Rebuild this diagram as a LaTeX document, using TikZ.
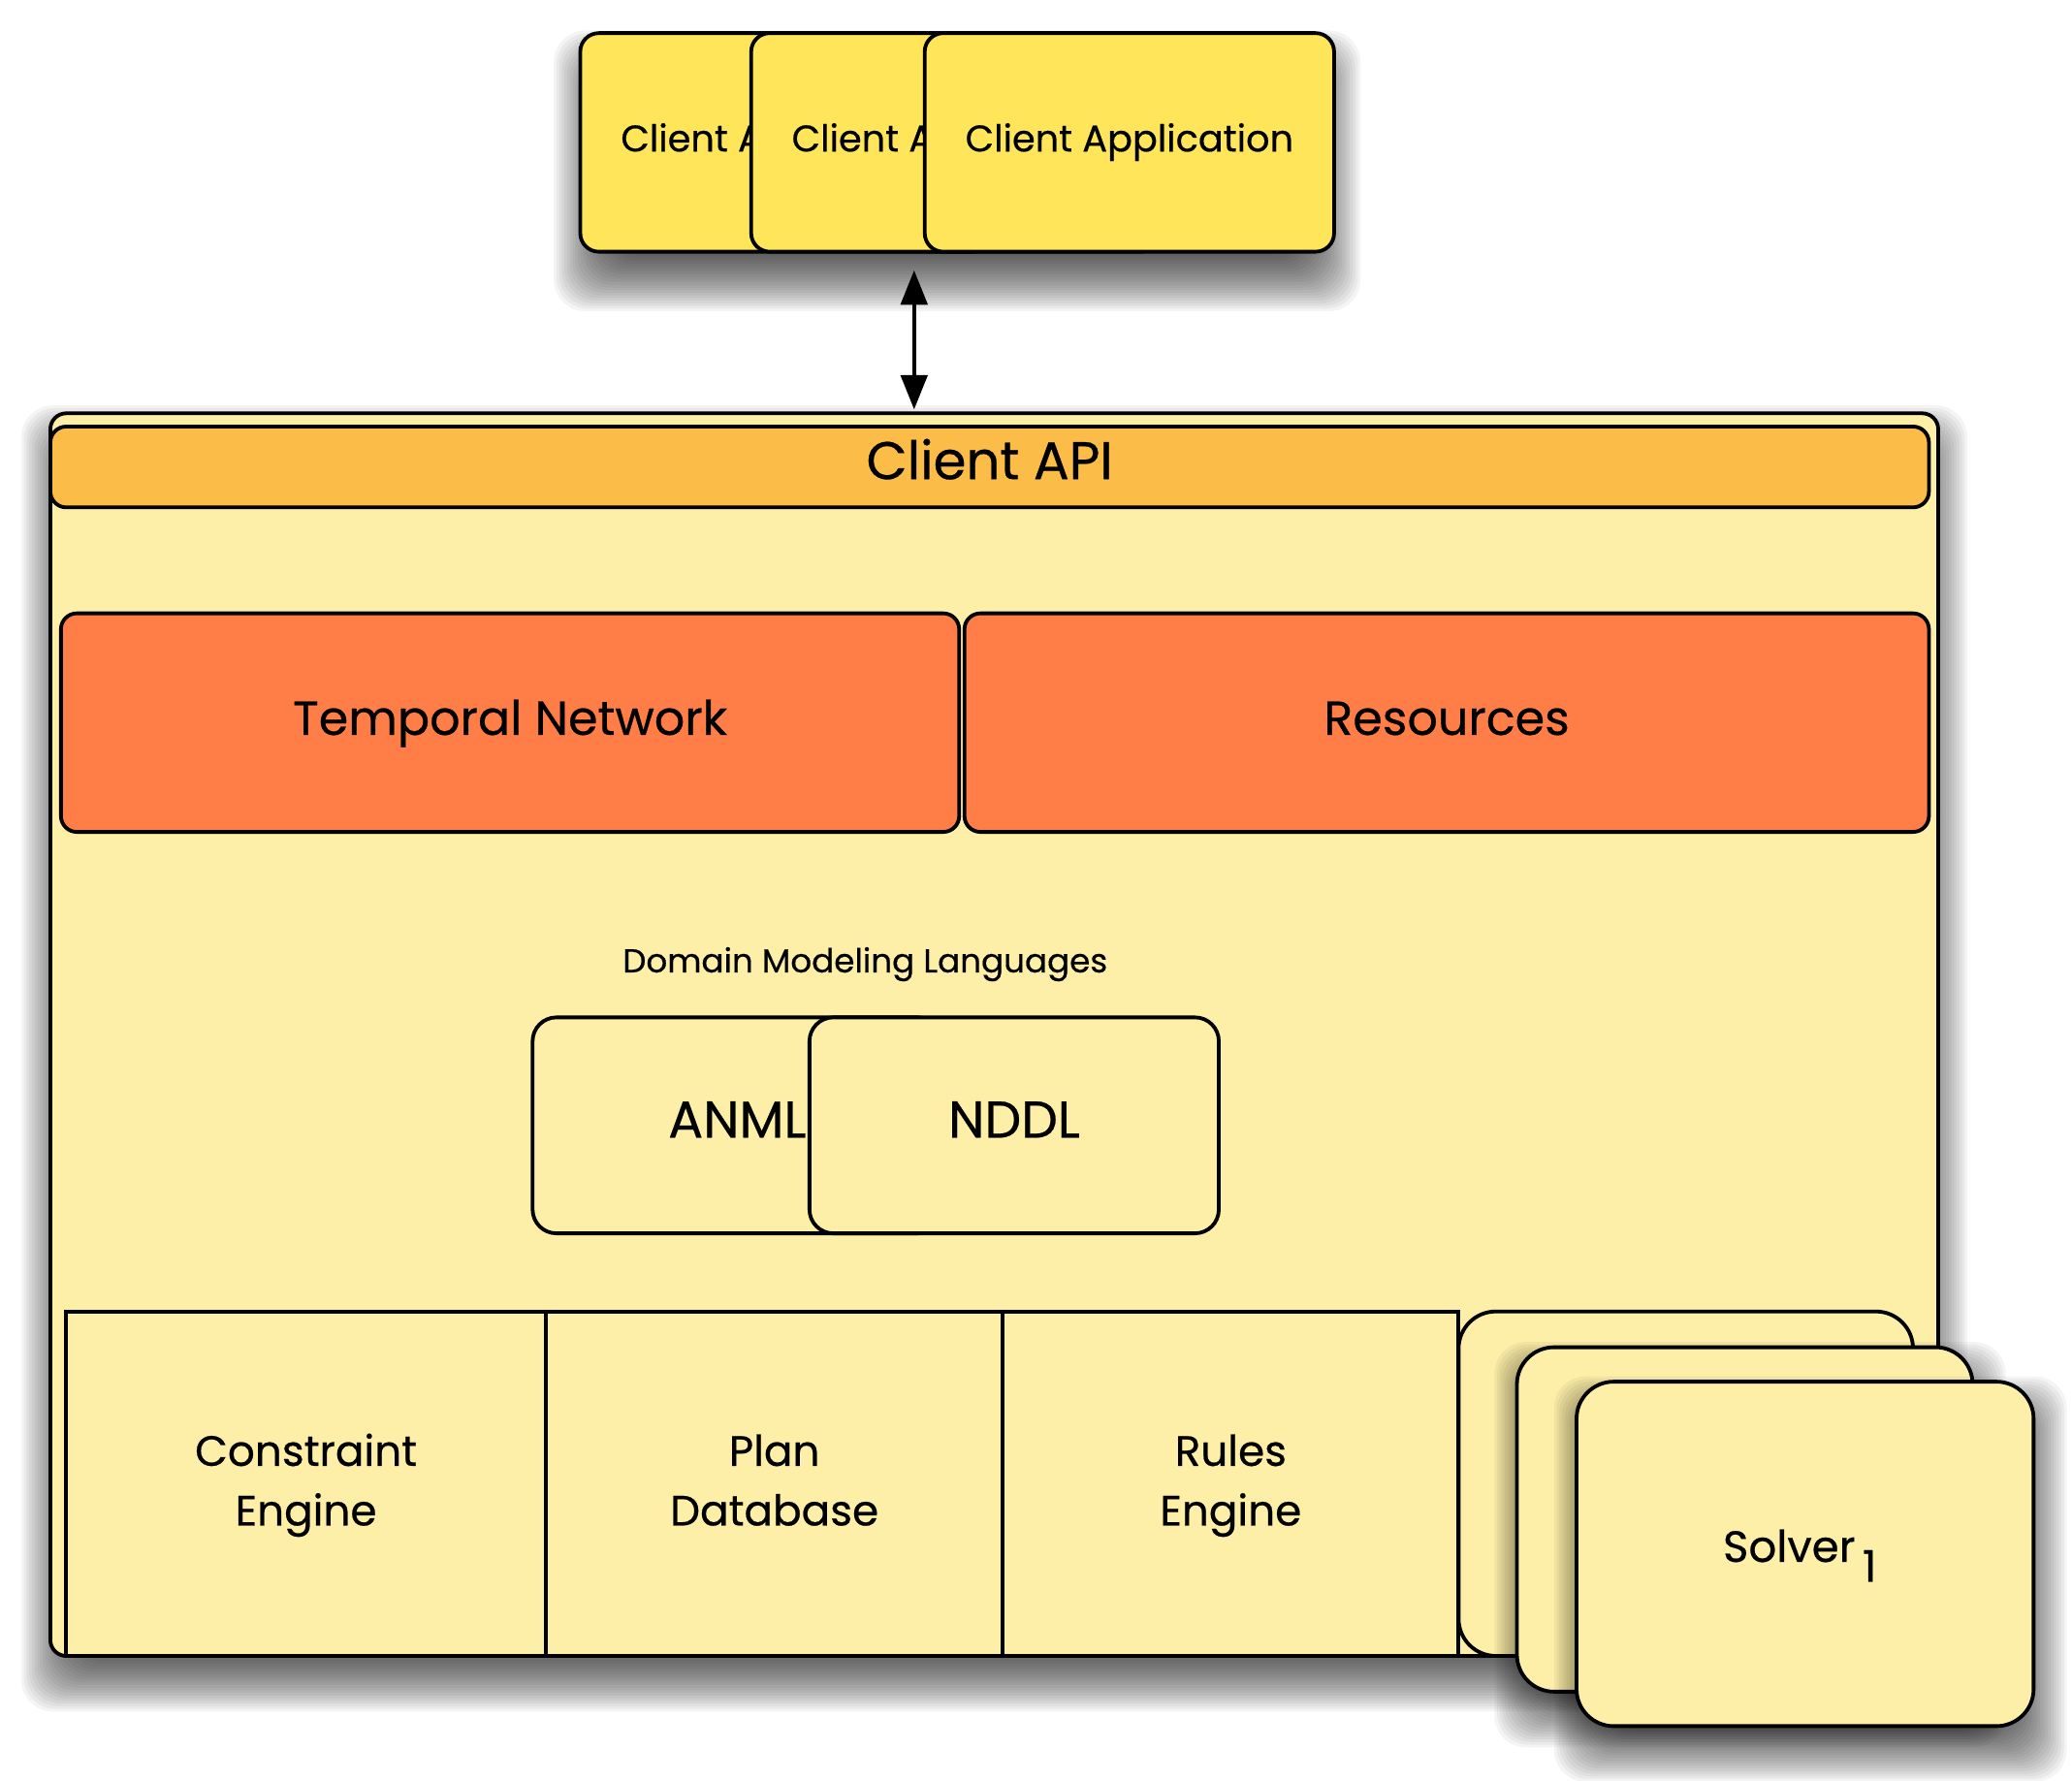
\documentclass[tikz,border=0pt]{standalone}
\usepackage{fontspec}
\setmainfont{Poppins}[FakeBold=0.5]
\usetikzlibrary{arrows.meta}
\definecolor{clientyellow}{RGB}{255,229,90}
\definecolor{paleyellow}{RGB}{253,238,168}
\definecolor{apiorange}{RGB}{251,188,72}
\definecolor{netorange}{RGB}{255,126,72}
\newcommand\softshadow[4]{%
  \foreach \sd in {-20,-18,...,22}{%
    \fill[black,opacity=0.045,rounded corners=24pt] ({#1-(\sd)},{#2-(\sd)}) rectangle ({#3+(\sd)},{#4+(\sd)});
  }}
\newcommand\partlabel[2]{\setbox0\hbox{#1}\hbox to\wd0{#2\hfil}}
\tikzset{
  box/.style={draw=black, line width=2.8pt, inner sep=0pt, align=center},
  clientbox/.style={box, rounded corners=14pt, fill=clientyellow, minimum width=309pt, minimum height=165pt, font=\fontsize{28}{34}\selectfont},
  nettext/.style={font=\fontsize{36}{46}\selectfont},
  langbox/.style={box, rounded corners=18pt, fill=paleyellow, minimum width=309pt, minimum height=163pt, font=\fontsize{39}{46}\selectfont},
  rowbox/.style={box, fill=paleyellow, minimum height=260pt, font=\fontsize{32}{45}\selectfont},
  solverbox/.style={box, rounded corners=28pt, fill=paleyellow, minimum width=344pt, minimum height=260pt},
  netbox/.style={box, rounded corners=12pt, fill=netorange, minimum height=165pt, nettext},
  dblarrow/.style={line width=3pt, {Triangle[length=26pt,width=20pt]}-{Triangle[length=26pt,width=20pt]}}
}
\begin{document}
\begin{tikzpicture}[x=1pt,y=-1pt]
\useasboundingbox (0,0) rectangle (1564,1344);
% shadows
\softshadow{440}{45}{1005}{213}
\softshadow{38}{328}{1463}{1270}
% client applications
\node[clientbox] (ca1) at (592.5,107.5) {\strut\partlabel{Client Application}{Client A}};
\node[clientbox] (ca2) at (721.5,107.5) {\strut\partlabel{Client Application}{Client A}};
\node[clientbox] (ca3) at (852.5,107.5) {\strut Client Application};
% container
\node[box, rounded corners=12pt, fill=paleyellow, minimum width=1425pt, minimum height=938pt] (container) at (750.5,781) {};
\node[box, rounded corners=12pt, fill=apiorange, minimum width=1418pt, minimum height=61pt, font=\fontsize{40}{46}\selectfont] (api) at (747,352.5) {\strut Client API};
% arrow
\coordinate (arrowtop) at (690,204);
\draw[dblarrow, shorten >=1.5pt] (arrowtop) -- (arrowtop |- container.north);
% networks
\node[netbox, minimum width=678pt] (temporal) at (385,545.5) {\strut Temporal Network};
\node[netbox, minimum width=728pt] (resources) at (1092,545.5) {\strut Resources};
% languages
\node[font=\fontsize{25}{30}\selectfont, inner sep=0pt] (domlabel) at (653,728) {\strut Domain Modeling Languages};
\node[langbox] (anml) at (556.5,849.5) {\strut ANML};
\node[langbox] (nddl) at (765.5,849.5) {\strut NDDL};
% bottom row
\node[rowbox, minimum width=362pt] (constraint) at (231,1120) {\strut Constraint\\\strut Engine};
\node[rowbox, minimum width=345pt] (plan) at (584.5,1120) {\strut Plan\\\strut Database};
\node[rowbox, minimum width=344pt] (rules) at (929,1120) {\strut Rules\\\strut Engine};
% solvers
\node[solverbox, minimum width=343pt] (solverA) at (1272.5,1120) {};
\softshadow{1150}{1035}{1492}{1297}
\node[solverbox] (solverB) at (1317,1147) {};
\softshadow{1195}{1061}{1538}{1323}
\node[solverbox, minimum width=345pt] (solverC) at (1362.5,1173) {};
\node[font=\fontsize{33}{40}\selectfont, inner sep=0pt] (solverlabel) at ([xshift=-4pt,yshift=2pt]solverC.center) {\strut Solver\,\raisebox{-15pt}[0pt][0pt]{1}};
\end{tikzpicture}
\end{document}
